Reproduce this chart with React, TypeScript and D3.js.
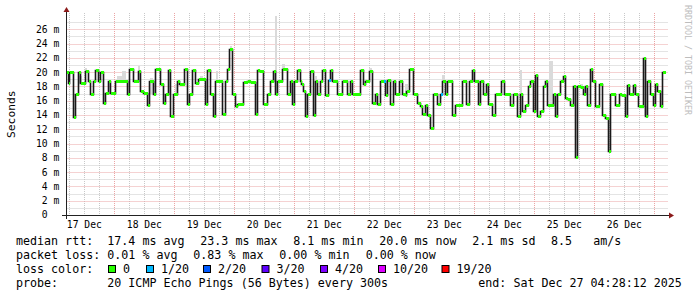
import React from 'react';
import * as d3 from 'd3';

const END = Date.UTC(2025, 11, 27, 4, 28, 12);
const START = END - 240 * 3600 * 1000;

// median rtt steps: start hour (from START) and value in ms
const medianHours = [
  0, 1.0, 1.5, 3.0, 3.7, 5.0, 5.7, 7.7, 9.0, 9.7, 11.1, 11.7, 13.0, 13.8, 15.0, 15.7, 17.0, 17.7, 19.7,
  24.7, 25.5, 26.9, 29.0, 29.8, 31.1, 32.7, 33.5, 35.1, 35.7, 37.8, 39.1, 39.8, 41.1, 41.8, 43.0, 44.7,
  45.4, 47.4, 48.7, 49.5, 50.7, 51.7, 53.0, 55.7, 56.7, 57.7, 59.0, 59.8, 62.7, 63.8, 64.7, 65.4, 66.7,
  67.7, 68.7, 69.8, 71.0, 72.7, 73.7, 75.7, 76.7, 77.4, 79.0, 79.7, 80.7, 81.7, 83.0, 83.8, 84.7, 86.7,
  88.7, 89.7, 90.7, 91.4, 92.7, 93.7, 94.3, 95.1, 95.7, 96.7, 97.8, 99.0, 99.8, 100.7, 101.7, 102.7,
  103.8, 104.9, 105.7, 106.7, 108.7, 110.7, 112.7, 113.8, 114.7, 117.7, 119.0, 119.7, 121.5, 122.7,
  123.7, 124.7, 125.7, 127.0, 127.7, 128.7, 129.7, 131.0, 131.7, 133.4, 134.7, 135.7, 136.3, 137.4,
  139.0, 140.1, 140.7, 141.7, 142.7, 143.7, 144.7, 145.7, 147.0, 148.7, 149.8, 150.7, 151.7, 152.7,
  154.7, 155.7, 158.7, 160.1, 161.4, 162.7, 163.4, 165.1, 165.8, 167.0, 168.1, 169.0, 170.7, 171.7,
  174.3, 175.4, 177.7, 179.0, 180.7, 181.7, 182.7, 183.7, 185.0, 185.7, 187.0, 187.7, 188.7, 189.8,
  191.0, 191.8, 192.7, 195.0, 195.7, 196.7, 197.7, 199.0, 199.7, 200.7, 201.7, 203.0, 203.7, 204.7,
  205.7, 207.0, 207.7, 208.7, 209.7, 210.7, 211.7, 213.4, 214.7, 215.7, 217.0, 217.8, 219.7, 221.4,
  222.3, 223.7, 224.7, 225.4, 227.0, 227.7, 229.0, 231.0, 231.8, 232.7, 233.7, 235.0, 235.7, 236.7,
  237.7, 238.7,
];
const medianMs = [
  20.0, 18.5, 20.0, 13.7, 16.9, 20.0, 18.5, 20.2, 18.7, 17.0, 18.7, 20.3, 18.7, 20.0, 15.7, 17.1, 18.7, 17.1, 18.7,
  16.9, 20.4, 18.7, 20.2, 17.3, 17.1, 15.4, 18.7, 17.0, 20.4, 18.4, 15.7, 17.0, 20.3, 13.9, 17.0, 18.7,
  18.4, 20.4, 15.5, 17.0, 20.3, 18.5, 19.0, 15.5, 20.3, 17.0, 13.9, 18.7, 14.1, 18.7, 20.5, 23.3, 16.9,
  15.3, 15.5, 15.6, 18.6, 18.7, 18.6, 14.1, 20.3, 20.1, 15.6, 15.5, 17.0, 18.7, 20.2, 17.0, 18.7, 20.4,
  17.0, 18.7, 15.5, 18.7, 20.3, 18.7, 18.3, 17.3, 13.8, 16.9, 20.2, 14.0, 18.7, 17.0, 18.7, 20.3,
  16.8, 18.9, 20.3, 18.7, 17.0, 18.7, 17.0, 18.7, 17.0, 20.3, 18.4, 18.7, 20.1, 15.7,
  17.0, 15.5, 18.7, 18.8, 16.8, 18.9, 15.5, 18.7, 17.0, 18.7, 17.0, 16.8, 17.3, 20.4,
  17.0, 16.9, 15.7, 15.2, 14.1, 15.4, 14.0, 12.2, 17.0, 15.5, 17.0, 18.7, 17.0, 18.7,
  14.0, 15.4, 18.7, 15.5, 18.7, 20.3, 18.7, 15.5, 18.7, 17.0, 18.4, 15.5, 14.0, 17.0,
  18.7, 17.0, 15.4, 17.0, 13.8, 17.0, 14.6, 15.4, 18.0, 18.7, 14.6, 19.6, 13.9, 14.6,
  18.0, 18.7, 15.4, 17.0, 13.8, 17.0, 18.7, 19.5, 16.4, 16.2, 15.4, 18.0, 8.1, 18.0,
  17.9, 17.0, 18.0, 15.4, 20.4, 18.7, 15.3, 18.3, 14.0, 13.6, 8.9, 16.9, 15.4, 16.9,
  16.8, 13.8, 18.2, 17.0, 18.2, 17.0, 15.3, 22.0, 13.8, 18.7, 17.0, 15.4, 18.3, 17.3,
  15.3, 20.0,
];
const lastHour = 239.8;

// steps with packet loss (count of 20)
const lossHours = [104.9, 127.0, 149.8];
const lossCounts = [1, 1, 1];

// smoke (ping spread) visible outside the median band
const smokeFrom = [5.4, 7.7, 20.7, 22.7, 29.0, 33.8, 43.9, 53.8, 60.1, 65.8, 83.8, 86.7, 99.8, 119.7, 121.4, 135.7, 149.8, 150.7, 181.7, 193.4, 205.7, 231.5];
const smokeTo = [6.7, 8.7, 22.7, 24.1, 29.8, 35.1, 44.7, 55.0, 61.0, 66.7, 84.7, 87.7, 100.7, 120.7, 122.7, 137.0, 150.7, 151.7, 182.7, 195.0, 207.0, 232.7];
const smokeLow = [18.5, 20.0, 18.7, 18.7, 20.0, 17.0, 17.0, 18.9, 18.7, 23.0, 17.0, 20.2, 18.5, 18.6, 20.0, 16.8, 16.2, 18.5, 17.0, 15.4, 17.9, 13.8];
const smokeHigh = [19.4, 20.6, 19.5, 20.2, 20.8, 19.2, 18.4, 19.5, 20.1, 23.6, 27.8, 21.1, 19.5, 19.1, 20.6, 18.3, 17.0, 19.6, 20.3, 21.6, 18.4, 15.3];

const yMajor = [0, 2, 4, 6, 8, 10, 12, 14, 16, 18, 20, 22, 24, 26];
const yMinor = [1, 3, 5, 7, 9, 11, 13, 15, 17, 19, 21, 23, 25, 27];

const lossLabels = ['0', '1/20', '2/20', '3/20', '4/20', '10/20', '19/20'];
const lossLevels = [0, 1, 2, 3, 4, 10, 19];
const lossColors = ['#26ff00', '#00b8ff', '#0059ff', '#5e00ff', '#7e00ff', '#dd00ff', '#ff0000'];

const statLine1 = [
  { t: 'median rtt:', x: 16 }, { t: '17.4 ms avg', x: 107.3 }, { t: '23.3 ms max', x: 200.3 },
  { t: '8.1 ms min', x: 293.3 }, { t: '20.0 ms now', x: 379.3 }, { t: '2.1 ms sd', x: 472.3 },
  { t: '8.5', x: 551 }, { t: 'am/s', x: 593.3 },
];
const statLine2 = [
  { t: 'packet loss:', x: 16 }, { t: '0.01 % avg', x: 107.3 }, { t: '0.83 % max', x: 193.3 },
  { t: '0.00 % min', x: 279.3 }, { t: '0.00 % now', x: 365.7 },
];
const lossLegendX = [108.5, 146.5, 203.5, 262, 320.5, 378.5, 442];

const MONO = '"DejaVu Sans Mono", monospace';

function colorFor(lost: number) {
  let c = lossColors[0];
  lossLevels.forEach((lv, i) => { if (lost >= lv) c = lossColors[i]; });
  return c;
}

export default function App() {
  const x = d3.scaleUtc().domain([new Date(START), new Date(END)]).range([65.5, 665.5]);
  const hx = (h: number) => Math.round(x(new Date(START + h * 3600 * 1000)));
  const y = d3.scaleLinear().domain([0, 28]).range([215, 15]);
  const top = 15, bottom = 215, left = 66.5, right = 668;

  const pts: [number, number][] = medianHours.map((h, i) => [h, medianMs[i]]);
  pts.push([lastHour, medianMs[medianMs.length - 1]]);
  const line = d3.line<[number, number]>().x(d => hx(d[0]) + 0.5).y(d => Math.round(y(d[1])) + 0.5).curve(d3.curveStepAfter);

  const days = d3.utcDay.range(new Date(START), new Date(END));
  const sixH = d3.utcHour.every(6)!.range(new Date(START), new Date(END)).filter(d => d.getUTCHours() !== 0);
  const labelDays = d3.utcDay.range(d3.utcDay.floor(new Date(START)), new Date(END))
    .map(d => new Date(d.getTime() + 12 * 3600 * 1000))
    .filter(d => x(d) > left && x(d) < right);
  const fmt = d3.utcFormat('%d %b');

  return (
    <svg width={697} height={297} style={{ position: 'absolute', left: 0, top: 0, background: '#fff' }}
      fontFamily={MONO}>
      <rect x={0} y={0} width={697} height={297} fill="#ffffff" />
      {/* minor grid */}
      {yMinor.map(v => (
        <line key={'hm' + v} x1={left} x2={right} y1={Math.round(y(v)) + 0.5} y2={Math.round(y(v)) + 0.5}
          stroke="#c8c8c8" strokeDasharray="1,1" />
      ))}
      {sixH.map(d => (
        <line key={'vm' + d.getTime()} x1={Math.round(x(d)) + 0.5} x2={Math.round(x(d)) + 0.5} y1={top - 2} y2={bottom}
          stroke="#c8c8c8" strokeDasharray="1,1" />
      ))}
      {/* major grid */}
      {yMajor.filter(v => v > 0).map(v => (
        <line key={'hM' + v} x1={left} x2={right} y1={Math.round(y(v)) + 0.5} y2={Math.round(y(v)) + 0.5}
          stroke="#eba4a4" strokeDasharray="1,1" />
      ))}
      {days.map(d => (
        <line key={'vM' + d.getTime()} x1={Math.round(x(d)) + 0.5} x2={Math.round(x(d)) + 0.5} y1={top - 2} y2={bottom}
          stroke="#eba4a4" strokeDasharray="1,1" />
      ))}

      {/* smoke */}
      {smokeFrom.map((s, i) => (
        <rect key={'s' + i} x={hx(s)} width={hx(smokeTo[i]) - hx(s)} y={Math.round(y(smokeHigh[i]))}
          height={Math.round(y(smokeLow[i])) - Math.round(y(smokeHigh[i]))} fill="#dadada" />
      ))}

      {/* median line */}
      <path d={line(pts) || ''} fill="none" stroke="#1a1a1a" strokeWidth={1.6} />
      {medianHours.map((h, i) => {
        const h2 = i + 1 < medianHours.length ? medianHours[i + 1] : lastHour;
        const li = lossHours.indexOf(h);
        const lost = li >= 0 ? lossCounts[li] : 0;
        return (
          <rect key={'m' + i} x={hx(h) + 1} width={Math.max(1, hx(h2) - hx(h))} y={Math.round(y(medianMs[i])) - 1} height={3}
            fill={colorFor(lost)} />
        );
      })}

      {/* axes */}
      <line x1={62} x2={669} y1={215.5} y2={215.5} stroke="#222" />
      <line x1={66.5} x2={66.5} y1={219} y2={12} stroke="#222" />
      <path d="M669,212.5 L674,215.5 L669,218.5 Z" fill="#8b1a1a" />
      <path d="M63.5,12 L66.5,7 L69.5,12 Z" fill="#8b1a1a" />

      {/* y tick labels */}
      {yMajor.map(v => (
        <g key={'yl' + v} fontSize={9.7} fill="#000">
          <text x={47.6} y={y(v) + 3.4} textAnchor="end">{v}</text>
          {v > 0 && <text x={53.4} y={y(v) + 3.4}>m</text>}
        </g>
      ))}
      {/* x tick labels */}
      {labelDays.map(d => (
        <text key={'xl' + d.getTime()} x={x(d)} y={227.5} textAnchor="middle" fontSize={9.7}>{fmt(d)}</text>
      ))}

      {/* y axis title */}
      <text transform="translate(15,114.2) rotate(-90)" textAnchor="middle" fontSize={11.3}>Seconds</text>
      {/* watermark */}
      <text transform="translate(685,5) rotate(90)" fontSize={8.3} fill="#bdbdbd">RRDTOOL / TOBI OETIKER</text>

      {/* legend */}
      <g fontSize={11.66} fill="#000">
        {statLine1.map(s => <text key={'a' + s.t} x={s.x} y={245}>{s.t}</text>)}
        {statLine2.map(s => <text key={'b' + s.t} x={s.x} y={259}>{s.t}</text>)}
        <text x={16} y={273}>loss color:</text>
        {lossLabels.map((l, i) => (
          <g key={'lc' + l}>
            <rect x={lossLegendX[i]} y={265.5} width={7} height={7} fill={lossColors[i]} stroke="#000" />
            <text x={lossLegendX[i] + 14.5} y={273}>{l}</text>
          </g>
        ))}
        <text x={16} y={286.5}>probe:</text>
        <text x={107.3} y={286.5}>20 ICMP Echo Pings (56 Bytes) every 300s</text>
        <text x={478.3} y={286.5}>end: Sat Dec 27 04:28:12 2025</text>
      </g>
    </svg>
  );
}
